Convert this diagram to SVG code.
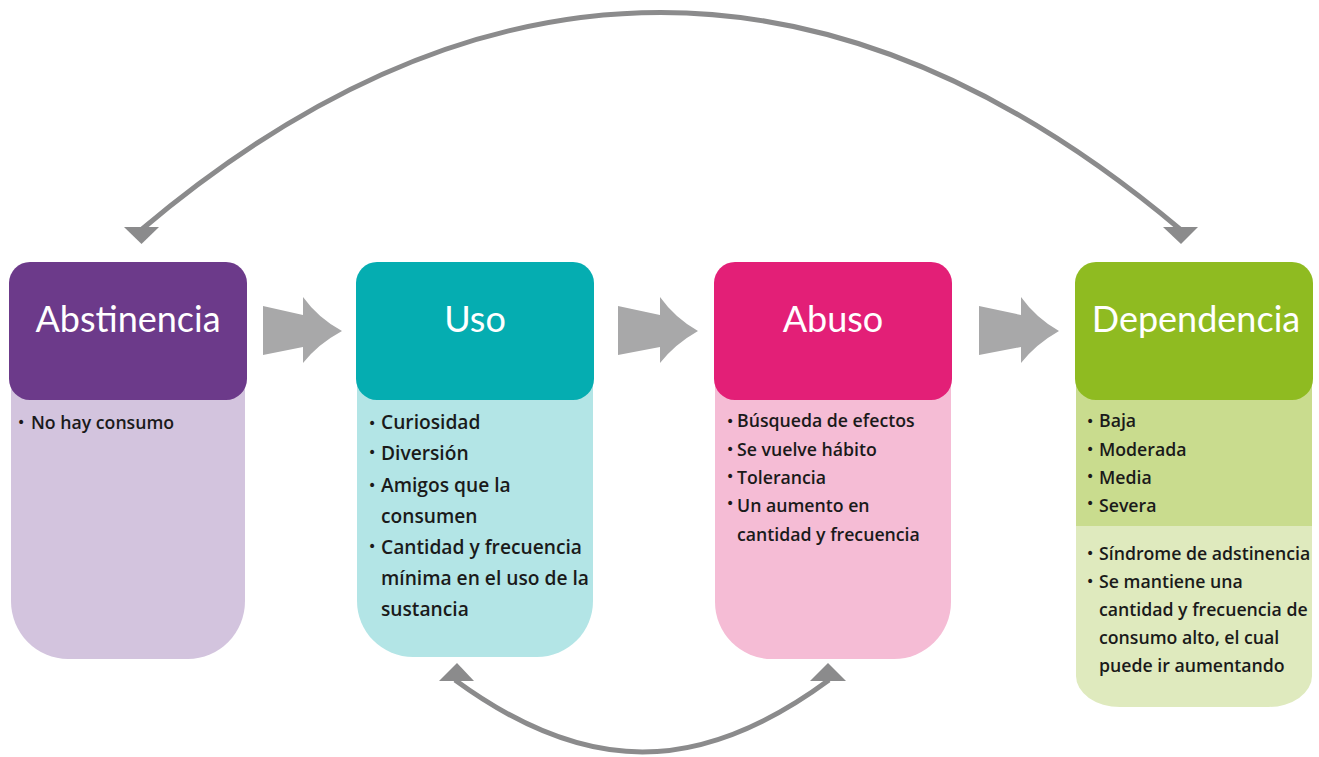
<svg xmlns="http://www.w3.org/2000/svg" width="1319" height="757" viewBox="0 0 1319 757">
<style>
.hd{font-family:Lato,"Open Sans",sans-serif;font-size:36px;fill:#ffffff;text-anchor:middle}
.bt{font-family:"Open Sans","Noto Sans",sans-serif;font-weight:600;fill:#1a1a1a}
.b17{font-size:17.7px}
.b19{font-size:19.2px}
.bl{font-family:"DejaVu Sans",sans-serif;font-size:14px;fill:#1a1a1a}
.blk{fill:#a8a8a9}
.arc{fill:none;stroke:#8b8b8c;stroke-width:5}
.ah{fill:#8b8b8c}
</style>
<rect width="1319" height="757" fill="#ffffff"/>

<g id="connectors">
  <path class="blk" d="M263,306 L303,315 L303,297 Q318,318 342,331 Q318,344 303,363 L303,347 L263,355 Z"/>
  <path class="blk" d="M618,306 L660,315 L660,297 Q675,318 698,331 Q675,344 660,363 L660,347 L618,355 Z"/>
  <path class="blk" d="M979,306 L1021,315 L1021,297 Q1036,318 1059,331 Q1036,344 1021,363 L1021,347 L979,355 Z"/>
  <path class="arc" d="M141,230 C484,-60 837,-60 1181,230"/>
  <polygon class="ah" points="124,227 159,227 141.5,244"/>
  <polygon class="ah" points="1163,227 1198,227 1181,244"/>
  <path class="arc" d="M455,680 C586,776 699,776 829,680"/>
  <polygon class="ah" points="439,681 474,681 457,663"/>
  <polygon class="ah" points="810,681 846,681 828,663"/>
</g>

<g id="abstinencia">
  <path d="M11,380 L245,380 L245,601 A57,58 0 0 1 188,659 L68,659 A57,58 0 0 1 11,601 Z" fill="#d3c4de"/>
  <rect x="9" y="262" width="238" height="138" rx="21" fill="#6c3a8a"/>
  <text class="hd" x="128" y="332">Abstinencia</text>
  <text class="bl" x="17" y="427">•</text>
  <text class="bt b17" x="31" y="429">No hay consumo</text>
</g>

<g id="uso">
  <path d="M357,380 L593,380 L593,601 A56,56 0 0 1 537,657 L413,657 A56,56 0 0 1 357,601 Z" fill="#b3e5e6"/>
  <rect x="356" y="262" width="238" height="138" rx="21" fill="#05adb1"/>
  <text class="hd" x="475" y="332">Uso</text>
  <g class="bl">
    <text x="368" y="428">•</text>
    <text x="368" y="457">•</text>
    <text x="368" y="490">•</text>
    <text x="368" y="551">•</text>
  </g>
  <g class="bt b19">
    <text x="381" y="429">Curiosidad</text>
    <text x="381" y="460">Diversión</text>
    <text x="381" y="492">Amigos que la</text>
    <text x="381" y="523">consumen</text>
    <text x="381" y="554">Cantidad y frecuencia</text>
    <text x="381" y="585">mínima en el uso de la</text>
    <text x="381" y="616">sustancia</text>
  </g>
</g>

<g id="abuso">
  <path d="M715,380 L951,380 L951,602 A57,57 0 0 1 894,659 L772,659 A57,57 0 0 1 715,602 Z" fill="#f5bcd5"/>
  <rect x="714" y="262" width="238" height="138" rx="21" fill="#e31f77"/>
  <text class="hd" x="833" y="332">Abuso</text>
  <g class="bl">
    <text x="726" y="426">•</text>
    <text x="726" y="454">•</text>
    <text x="726" y="481">•</text>
    <text x="726" y="508">•</text>
  </g>
  <g class="bt b17">
    <text x="737" y="427">Búsqueda de efectos</text>
    <text x="737" y="456">Se vuelve hábito</text>
    <text x="737" y="484">Tolerancia</text>
    <text x="737" y="512">Un aumento en</text>
    <text x="737" y="541">cantidad y frecuencia</text>
  </g>
</g>

<g id="dependencia">
  <rect x="1076" y="380" width="236" height="146" fill="#c9dc8e"/>
  <path d="M1076,526 L1312,526 L1312,676 A44,31 0 0 1 1268,707 L1120,707 A44,31 0 0 1 1076,676 Z" fill="#dfeabe"/>
  <rect x="1075" y="262" width="238" height="138" rx="21" fill="#8fbb21"/>
  <text class="hd" x="1196" y="332">Dependencia</text>
  <g class="bl">
    <text x="1086" y="426">•</text>
    <text x="1086" y="454">•</text>
    <text x="1086" y="481">•</text>
    <text x="1086" y="508">•</text>
    <text x="1086" y="558">•</text>
    <text x="1086" y="586">•</text>
  </g>
  <g class="bt b17">
    <text x="1099" y="427">Baja</text>
    <text x="1099" y="456">Moderada</text>
    <text x="1099" y="484">Media</text>
    <text x="1099" y="512">Severa</text>
    <text x="1099" y="560">Síndrome de adstinencia</text>
    <text x="1099" y="588">Se mantiene una</text>
    <text x="1099" y="616">cantidad y frecuencia de</text>
    <text x="1099" y="644">consumo alto, el cual</text>
    <text x="1099" y="672">puede ir aumentando</text>
  </g>
</g>
</svg>
